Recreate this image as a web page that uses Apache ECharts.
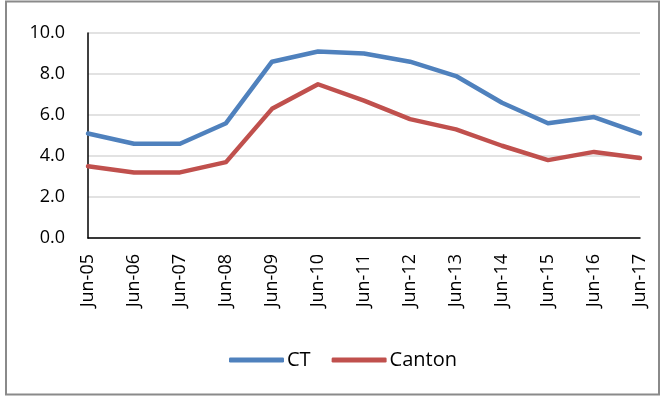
<!DOCTYPE html>
<html>
<head>
<meta charset="utf-8">
<script src="https://cdn.jsdelivr.net/npm/echarts@6/dist/echarts.min.js"></script>
<style>
  html, body { margin: 0; padding: 0; background: #fff; }
  #chart { width: 661px; height: 397px; }
</style>
</head>
<body>
<div id="chart"></div>
<script>
// Annual rates, June of each year
const categories = ['Jun-05', 'Jun-06', 'Jun-07', 'Jun-08', 'Jun-09', 'Jun-10', 'Jun-11',
                    'Jun-12', 'Jun-13', 'Jun-14', 'Jun-15', 'Jun-16', 'Jun-17'];
const ctValues     = [5.1, 4.6, 4.6, 5.6, 8.6, 9.1, 9.0, 8.6, 7.9, 6.6, 5.6, 5.9, 5.1];
const cantonValues = [3.5, 3.2, 3.2, 3.7, 6.3, 7.5, 6.7, 5.8, 5.3, 4.5, 3.8, 4.2, 3.9];

const FONT = '"Open Sans", Lato, sans-serif';

const chart = echarts.init(document.getElementById('chart'), null, { renderer: 'canvas' });

chart.setOption({
  animation: false,
  backgroundColor: '#ffffff',
  textStyle: { fontFamily: FONT, color: '#000' },
  graphic: [{
    type: 'rect',
    shape: { x: 6, y: 1.5, width: 653, height: 393 },
    style: { fill: 'none', stroke: '#8a8a8a', lineWidth: 2 },
    silent: true
  }],
  grid: { left: 88, right: 21, top: 33, bottom: 159 },
  legend: {
    left: 224,
    top: 345,
    icon: 'roundRect',
    itemWidth: 55,
    itemHeight: 5,
    itemGap: 21,
    textStyle: { fontFamily: FONT, fontSize: 20, color: '#000', padding: [0, 0, 0, -2] },
    data: ['CT', 'Canton']
  },
  xAxis: {
    type: 'category',
    data: categories,
    boundaryGap: false,
    axisLine: { show: true, lineStyle: { color: '#000', width: 1.5 } },
    axisTick: { show: false },
    axisLabel: { rotate: 90, margin: 16, fontSize: 18, color: '#000', fontFamily: FONT, interval: 0 },
    splitLine: { show: false }
  },
  yAxis: {
    type: 'value',
    min: 0,
    max: 10,
    interval: 2,
    axisLine: { show: true, lineStyle: { color: '#000', width: 1.5 } },
    axisTick: { show: false },
    axisLabel: {
      margin: 23, fontSize: 18, color: '#000', fontFamily: FONT,
      formatter: v => v.toFixed(1)
    },
    splitLine: { show: true, lineStyle: { color: '#d9d9d9', width: 1.5 } }
  },
  series: [
    {
      name: 'CT',
      type: 'line',
      data: ctValues,
      symbol: 'none',
      itemStyle: { color: '#4f81bd' },
      lineStyle: { color: '#4f81bd', width: 4.5, join: 'round', cap: 'round' }
    },
    {
      name: 'Canton',
      type: 'line',
      data: cantonValues,
      symbol: 'none',
      itemStyle: { color: '#c0504d' },
      lineStyle: { color: '#c0504d', width: 4.5, join: 'round', cap: 'round' }
    }
  ]
});
</script>
</body>
</html>
